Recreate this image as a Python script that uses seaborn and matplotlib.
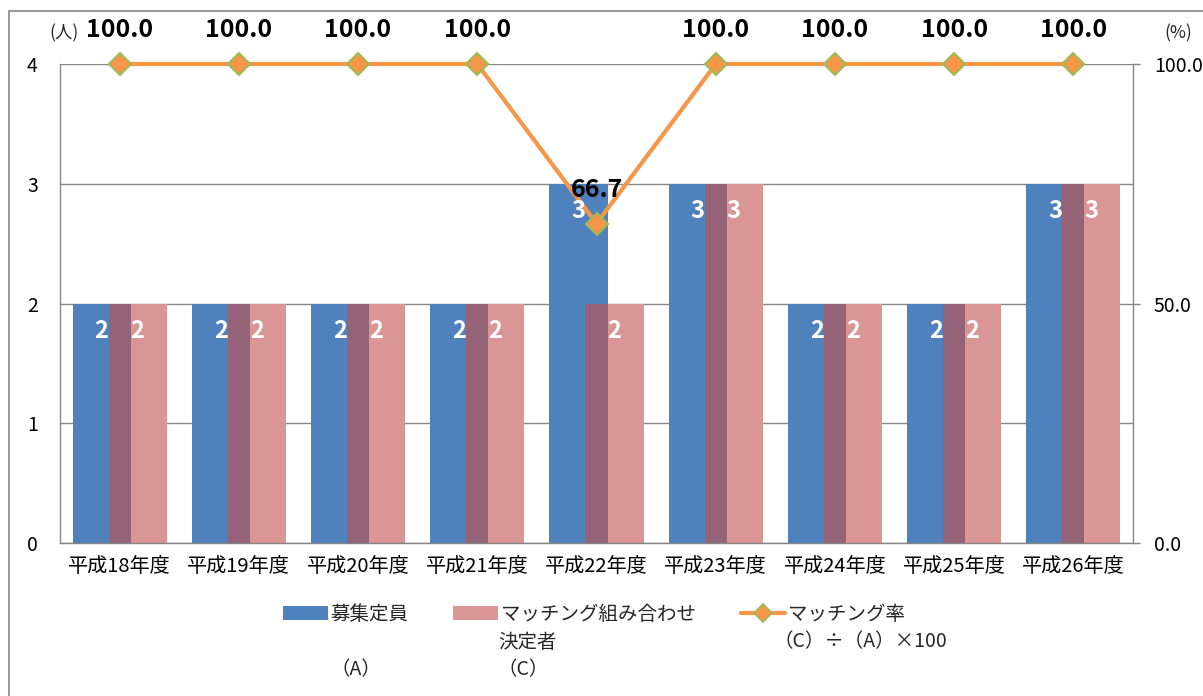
import numpy as np
import pandas as pd
import matplotlib
matplotlib.use("Agg")
import matplotlib.pyplot as plt
import seaborn as sns
from matplotlib.patches import Patch, Rectangle
from matplotlib.lines import Line2D

# ---- data ----
categories = ["平成18年度", "平成19年度", "平成20年度", "平成21年度", "平成22年度",
              "平成23年度", "平成24年度", "平成25年度", "平成26年度"]
recruit = [2, 2, 2, 2, 3, 3, 2, 2, 3]          # 募集定員 (A)
matched = [2, 2, 2, 2, 2, 3, 2, 2, 3]          # マッチング組み合わせ決定者 (C)
rate = [100.0, 100.0, 100.0, 100.0, 66.7, 100.0, 100.0, 100.0, 100.0]  # (C)÷(A)×100
legend_labels = ["募集定員", "マッチング組み合わせ", "マッチング率"]
legend_extra = [["", "（A）"], ["決定者", "（C）"], ["（C）÷（A）×100"]]

BLUE = "#4F81BD"
PINK = "#D99694"
OVER = "#946378"
ORANGE = "#F79646"
GREEN = "#9BBB59"
GRAY = "#868686"

sns.set_theme(style="white")
plt.rcParams["font.family"] = ["Noto Sans CJK JP", "DejaVu Sans"]

W, H = 1203, 696
fig = plt.figure(figsize=(W / 100, H / 100), dpi=100)
ax = fig.add_axes([60 / W, (H - 543) / H, (1133 - 60) / W, (543 - 64) / H])

idx = np.arange(len(categories))
off = 0.151
bw = 0.487
df = pd.DataFrame({"x": idx, "A": recruit, "C": matched, "rate": rate})
df["xa"] = df["x"] - off
df["xc"] = df["x"] + off
df["ov"] = np.minimum(df["A"], df["C"])

sns.barplot(data=df, x="xa", y="A", native_scale=True, width=bw, color=BLUE,
            saturation=1, linewidth=0, errorbar=None, ax=ax)
sns.barplot(data=df, x="xc", y="C", native_scale=True, width=bw, color=PINK,
            saturation=1, linewidth=0, errorbar=None, ax=ax)
sns.barplot(data=df, x="x", y="ov", native_scale=True, width=2 * (bw / 2 - off),
            color=OVER, saturation=1, linewidth=0, errorbar=None, ax=ax)

ax.set_xlim(-0.5, len(categories) - 0.5)
ax.set_ylim(0, 4)
ax.set_yticks(range(5))
ax.set_xticks(idx, categories)
ax.set_xlabel("")
ax.set_ylabel("")
ax.set_axisbelow(True)
ax.yaxis.grid(True, color=GRAY, lw=1)
ax.xaxis.grid(False)
for s in ["left", "bottom"]:
    ax.spines[s].set_color(GRAY)
    ax.spines[s].set_linewidth(1)
ax.spines["top"].set_visible(False)
ax.spines["right"].set_visible(False)
ax.tick_params(axis="y", length=0, pad=16, labelsize=14, labelcolor="black")
ax.tick_params(axis="x", length=0, pad=9, labelsize=14.5, labelcolor="black")

ax2 = ax.twinx()
sns.lineplot(data=df, x="x", y="rate", ax=ax2, color=ORANGE, lw=3, marker="D",
             markersize=11, markerfacecolor=ORANGE, markeredgecolor=GREEN,
             markeredgewidth=1.5)
for ln in ax2.lines:
    ln.set_clip_on(False)
    ln.set_zorder(4)
ax2.set_ylim(0, 100)
ax2.set_yticks([0, 50, 100], ["0.0", "50.0", "100.0"])
ax2.set_ylabel("")
ax2.set_xlabel("")
for s in ["left", "bottom", "top"]:
    ax2.spines[s].set_visible(False)
ax2.spines["right"].set_color(GRAY)
ax2.spines["right"].set_linewidth(1)
ax2.tick_params(axis="y", length=5, width=1, color=GRAY, pad=10, labelsize=14,
                labelcolor="black")
ax2.set_xlim(-0.5, len(categories) - 0.5)

# bar value labels
for i in idx:
    ax2.annotate(str(recruit[i]), xy=(i - off, recruit[i]), xycoords=ax.transData,
                 xytext=(0, -27), textcoords="offset pixels", ha="center", va="center",
                 color="white", fontweight="bold", fontsize=17, zorder=5)
    ax2.annotate(str(matched[i]), xy=(i + off, matched[i]), xycoords=ax.transData,
                 xytext=(0, -27), textcoords="offset pixels", ha="center", va="center",
                 color="white", fontweight="bold", fontsize=17, zorder=5)
    ax2.annotate(f"{rate[i]:.1f}", xy=(i, rate[i]), xycoords="data",
                 xytext=(0, 34), textcoords="offset pixels", ha="center", va="center",
                 color="black", fontweight="bold", fontsize=18, zorder=6,
                 annotation_clip=False)

fig.text(64 / W, 1 - 33 / H, "(人)", ha="center", va="center", fontsize=12.5)
fig.text(1178 / W, 1 - 33 / H, "(%)", ha="center", va="center", fontsize=12.5)

# figure border
fig.add_artist(Rectangle((8.5 / W, -0.1), 1.5, 1 - 11 / H + 0.1, transform=fig.transFigure,
                         fill=False, edgecolor=GRAY, lw=1.2))

handles = [Patch(facecolor=BLUE, edgecolor="none"),
           Patch(facecolor=PINK, edgecolor="none"),
           Line2D([], [], color=ORANGE, lw=3, marker="D", markersize=9,
                  markerfacecolor=ORANGE, markeredgecolor=GREEN, markeredgewidth=1.2)]
leg = fig.legend(handles, legend_labels, ncol=3, loc="center left",
                 bbox_to_anchor=(283 / W, 1 - 614 / H), frameon=False, fontsize=14,
                 handlelength=2.3, handletextpad=0.15, columnspacing=2.3,
                 borderpad=0, borderaxespad=0)

fig.canvas.draw()
renderer = fig.canvas.get_renderer()
shifts = [0, -3, -15]
for t, extra, sh in zip(leg.get_texts(), legend_extra, shifts):
    bb = t.get_window_extent(renderer)
    for k, line in enumerate(extra):
        if not line:
            continue
        y = 614 + 28 * (k + 1)
        fig.text((bb.x0 + sh) / W, 1 - y / H, line, ha="left", va="center", fontsize=14)

fig.savefig("out.png", dpi=100)
